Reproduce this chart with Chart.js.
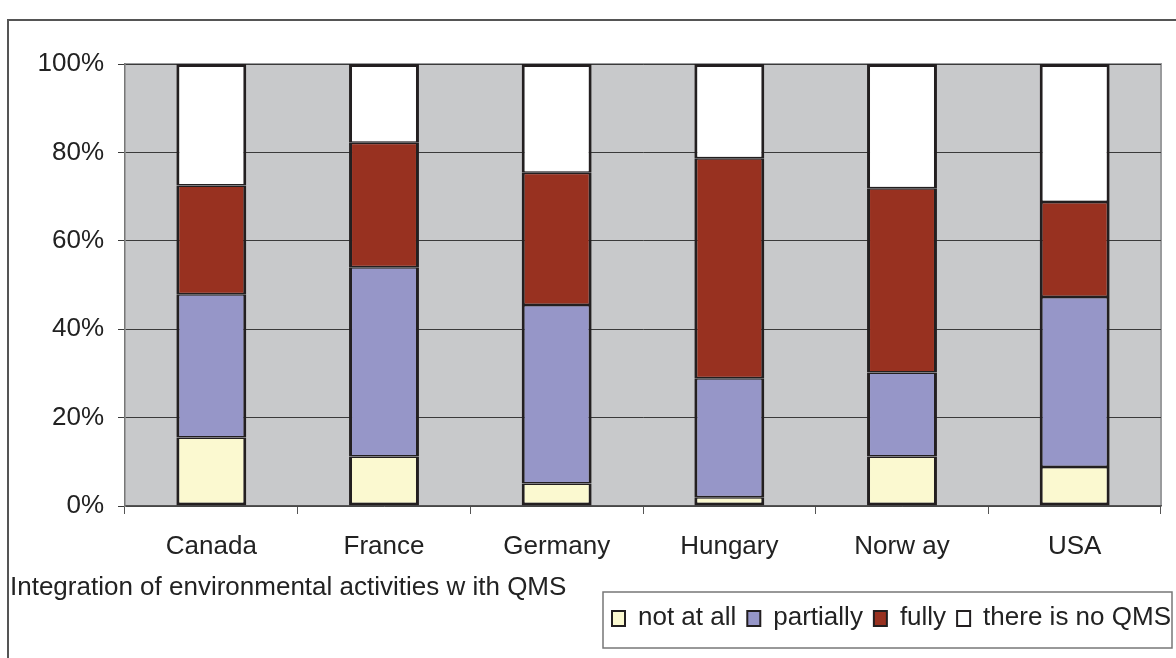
<!DOCTYPE html>
<html>
<head>
<meta charset="utf-8">
<title>Integration of environmental activities with QMS</title>
<script src="https://cdn.jsdelivr.net/npm/chart.js@4"></script>
<style>
  html, body { margin: 0; padding: 0; background: #ffffff; }
  #wrap { width: 1176px; height: 658px; position: relative; }
</style>
</head>
<body>
<div id="wrap"><canvas id="myChart" width="1176" height="658"></canvas></div>
<script>
'use strict';

let countries = ['Canada', 'France', 'Germany', 'Hungary', 'Norw ay', 'USA'];
let notAtAll = [15.5, 11.2, 5.1, 2.0, 11.2, 8.8];
let partially = [32.4, 42.8, 40.4, 26.9, 19.0, 38.5];
let fully = [24.6, 28.2, 29.9, 49.8, 41.7, 21.5];
let noQms = [27.5, 17.8, 24.6, 21.3, 28.1, 31.2];
let yTicks = [0, 20, 40, 60, 80, 100];
let xTitle = 'Integration of environmental activities w ith QMS';

let fontName = '"Liberation Sans", Arial, sans-serif';
let edge = '#231f20';
let textColor = '#222222';

// gray plot background + outer frame + axis title + legend box
let decorate = {
  id: 'decorate',
  beforeDraw(chart) {
    let ctx = chart.ctx;
    let a = chart.chartArea;
    ctx.save();
    ctx.fillStyle = '#c8c9cb';
    ctx.fillRect(a.left, a.top, a.right - a.left, a.bottom - a.top);
    ctx.strokeStyle = '#9a9b9d';
    ctx.lineWidth = 2;
    ctx.beginPath();
    ctx.moveTo(a.left, a.top);
    ctx.lineTo(a.right, a.top);
    ctx.lineTo(a.right, a.bottom);
    ctx.stroke();
    ctx.restore();
  },
  afterDraw(chart) {
    let ctx = chart.ctx;
    ctx.save();
    // outer frame
    ctx.strokeStyle = '#555555';
    ctx.lineWidth = 2;
    ctx.strokeRect(8, 20, 1200, 700);

    // x title
    ctx.fillStyle = textColor;
    ctx.font = '26px ' + fontName;
    ctx.textBaseline = 'middle';
    ctx.textAlign = 'left';
    ctx.fillText(xTitle, 10, 588);

    // legend
    ctx.strokeStyle = '#777777';
    ctx.lineWidth = 1.5;
    ctx.strokeRect(603, 592, 569, 56);
    let x = 612;
    let y = 618;
    chart.data.datasets.forEach(function (ds) {
      ctx.fillStyle = ds.backgroundColor;
      ctx.fillRect(x, y - 7, 13, 15);
      ctx.strokeStyle = edge;
      ctx.lineWidth = 2;
      ctx.strokeRect(x, y - 7, 13, 15);
      x += 26;
      ctx.fillStyle = textColor;
      ctx.fillText(ds.label, x, y);
      x += ctx.measureText(ds.label).width + 11;
    });
    ctx.restore();
  }
};

function makeSet(label, values, color, bottomW, topW) {
  return {
    label: label,
    data: values,
    backgroundColor: color,
    borderColor: edge,
    borderWidth: { top: topW, bottom: bottomW, left: 3, right: 3 },
    borderSkipped: false,
    barPercentage: 0.405,
    categoryPercentage: 1
  };
}

const config = {
  type: 'bar',
  data: {
    labels: countries,
    datasets: [
      makeSet('not at all', notAtAll, '#fbf9d0', 3, 1.5),
      makeSet('partially', partially, '#9696c8', 1.5, 1.5),
      makeSet('fully', fully, '#983120', 1.5, 1.5),
      makeSet('there is no QMS', noQms, '#ffffff', 1.5, 3)
    ]
  },
  options: {
    responsive: false,
    animation: false,
    layout: {
      padding: { top: 64, right: 15, left: 0, bottom: 0 }
    },
    plugins: {
      legend: { display: false },
      tooltip: { enabled: false }
    },
    scales: {
      x: {
        stacked: true,
        afterFit: function (scale) { scale.height = 152; },
        border: { display: true, color: '#555555', width: 1.5 },
        grid: {
          offset: true,
          drawOnChartArea: false,
          drawTicks: true,
          tickLength: 8,
          color: '#555555'
        },
        ticks: {
          color: textColor,
          padding: 17,
          font: { family: fontName, size: 26 }
        }
      },
      y: {
        stacked: true,
        min: 0,
        max: 100,
        afterFit: function (scale) { scale.width = 125; },
        afterBuildTicks: function (scale) {
          scale.ticks = yTicks.map(function (v) { return { value: v }; });
        },
        border: { display: true, color: '#777777', width: 1.5 },
        grid: {
          color: '#3a3a3a',
          lineWidth: 1,
          tickLength: 7
        },
        ticks: {
          color: textColor,
          padding: 14,
          font: { family: fontName, size: 26 },
          callback: function (v) { return v + '%'; }
        }
      }
    }
  },
  plugins: [decorate]
};

const myChart = new Chart(document.getElementById('myChart'), config);
</script>
</body>
</html>
